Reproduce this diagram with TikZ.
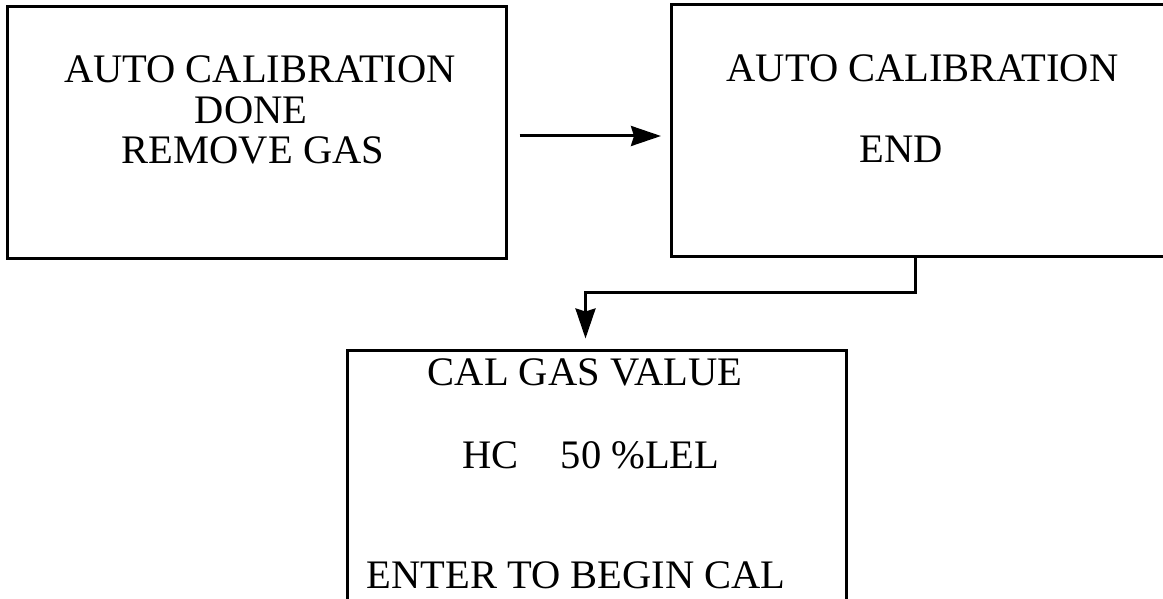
\documentclass[tikz,border=0pt]{standalone}
\usepackage{fontspec}
\setmainfont{Liberation Serif}
\usetikzlibrary{arrows.meta, positioning}

\begin{document}
\begin{tikzpicture}[
  x=1pt, y=-1pt,
  screen/.style={draw, line width=3pt, minimum width=499pt, minimum height=251pt, inner sep=0pt},
  msg/.style={font=\fontsize{40.5}{42}\selectfont, anchor=base, inner sep=0pt},
  arrow/.style={-{Stealth[length=30pt, width=20pt, inset=3pt]}, line width=3pt}
]
\useasboundingbox (0,0) rectangle (1163,599);
\clip (0,0) rectangle (1163,599);

% screens
\node[screen] (calDone) at (256.5,132.5) {};
\node[screen] (calEnd) at (921,130.5) {};
\node[screen] (gasValue) at (596.5,475.5) {};

% texts
\node[msg] (doneA) at (260,83) {AUTO CALIBRATION};
\node[msg] (doneB) at (251,124) {DONE};
\node[msg] (doneC) at (253,164) {REMOVE GAS};
\node[msg] (endA) at (922.5,82) {AUTO CALIBRATION};
\node[msg] (endB) at (901,163) {END};
\node[msg] (gasA) at (585,385) {CAL GAS VALUE};
\node[msg] (gasB) at (591,468) {HC\hspace{42pt}50 \%LEL};
\node[msg] (gasC) at (576,588) {ENTER TO BEGIN CAL};

% connectors
\draw[arrow, shorten <=12pt, shorten >=9pt] ([yshift=-3.5pt]calDone.east) -- ([yshift=-3.5pt]calDone.east -| calEnd.west);
\draw[arrow] ([xshift=-6pt]calEnd.south) -- ++(0,35) -| ([xshift=240pt, yshift=10pt]gasValue.north west);
\end{tikzpicture}
\end{document}
